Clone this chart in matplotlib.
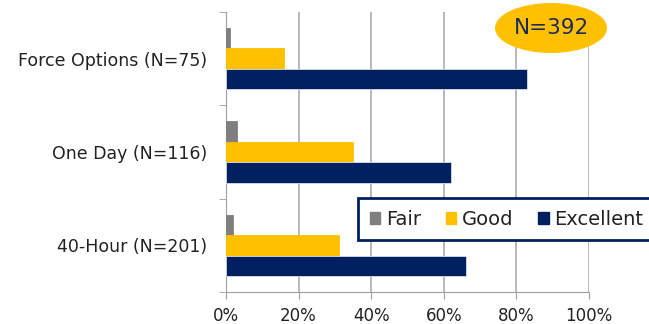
import matplotlib
matplotlib.use("Agg")
import matplotlib.pyplot as plt
from matplotlib.patches import Patch, Ellipse
import numpy as np

categories = ["Force Options (N=75)", "One Day (N=116)", "40-Hour (N=201)"]
series = ["Fair", "Good", "Excellent"]
fair = [1, 3, 2]
good = [16, 35, 31]
excellent = [83, 62, 66]
colors = ["#7F7F7F", "#FFC000", "#002060"]
xticks = [0, 20, 40, 60, 80, 100]
total_label = "N=392"

plt.rcParams['font.family'] = ['DejaVu Sans']

fig = plt.figure(figsize=(6.49, 3.24), dpi=100)
ax = fig.add_axes([226/649, 1-292/324, (589-226)/649, (292-12)/324])

n = len(categories)
y = np.arange(n)  # 0 at top after inversion
h = 0.22
for i, (vals, col) in enumerate(zip([fair, good, excellent], colors)):
    ax.barh(y + (i - 1) * h, vals, height=h, color=col,
            edgecolor="#D9DDEA" if col == "#002060" else col, linewidth=0.6, zorder=3)

ax.set_ylim(n - 0.5, -0.5)
ax.set_xlim(0, 100)
ax.set_xticks(xticks)
ax.set_xticklabels([f"{v}%" for v in xticks], fontsize=12, color="#222222")
ax.set_yticks(y)
ax.set_yticklabels(categories, fontsize=12.5, color="#222222")
ax.set_yticks(np.arange(-0.5, n, 1.0), minor=True)
ax.tick_params(axis='y', which='major', length=0, pad=13.5)
ax.tick_params(axis='y', which='minor', length=5, color="#A0A0A0", direction='out')
ax.tick_params(axis='x', length=5, color="#A0A0A0", direction='out', pad=6)

ax.grid(axis='x', color="#A6A6A6", linewidth=1.1, zorder=0)
for s in ["top", "right"]:
    ax.spines[s].set_visible(False)
ax.spines["left"].set_color("#A0A0A0")
ax.spines["bottom"].set_color("#A0A0A0")

# total sample badge
badge = Ellipse((551/649, 1-28/324), 112/649, 50/324, transform=fig.transFigure,
                facecolor="#FFC000", edgecolor="none", zorder=5)
fig.patches.append(badge)
fig.text(551/649, 1-28/324, total_label, ha="center", va="center",
         fontsize=15.5, color="#1F2A5C", zorder=6)

handles = [Patch(facecolor=c, edgecolor=c, label=s) for c, s in zip(colors, series)]
leg = fig.legend(handles=handles, ncol=3, loc="upper left",
                 bbox_to_anchor=(358/649, 1-198/324), borderaxespad=0, fontsize=14,
                 frameon=True, fancybox=False, framealpha=1,
                 handlelength=0.55, handleheight=0.55,
                 handletextpad=0.3, columnspacing=1.25, borderpad=0.6,
                 labelcolor="#222222")
leg.get_frame().set_edgecolor("#002060")
leg.get_frame().set_linewidth(2)

fig.savefig("out.png", dpi=100)
